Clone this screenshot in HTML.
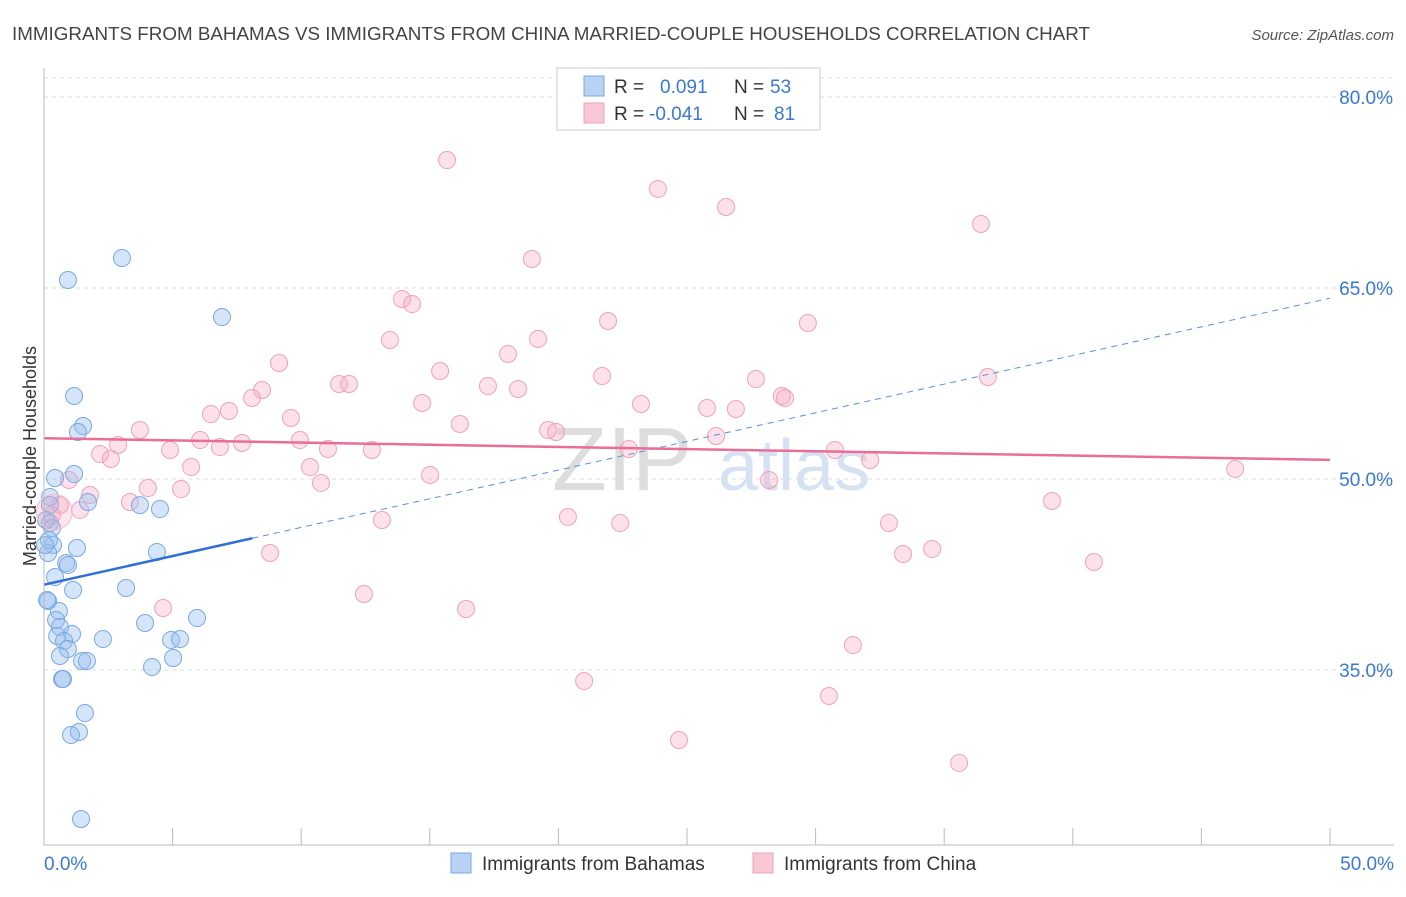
<!DOCTYPE html>
<html><head><meta charset="utf-8"><style>
body{margin:0;background:#fff;font-family:"Liberation Sans",sans-serif;}
svg text{font-family:"Liberation Sans",sans-serif;}
</style></head><body>
<svg id="chart" width="1406" height="892" xmlns="http://www.w3.org/2000/svg">
<text x="12" y="40" font-size="18.5" fill="#444" textLength="1078" lengthAdjust="spacingAndGlyphs">IMMIGRANTS FROM BAHAMAS VS IMMIGRANTS FROM CHINA MARRIED-COUPLE HOUSEHOLDS CORRELATION CHART</text>
<text x="1394" y="40" font-size="15" fill="#555" font-style="italic" text-anchor="end">Source: ZipAtlas.com</text>
<g><text x="552" y="490" font-size="90" fill="#ddd" font-family="Liberation Serif">ZIP</text><text x="718" y="490" font-size="72" fill="#d6e2f3">atlas</text></g>
<g id="grid"></g><g id="marks"></g><g id="axes"></g>
<text x="36" y="456" font-size="18" fill="#333" text-anchor="middle" transform="rotate(-90 36 456)">Married-couple Households</text>
<g>
<rect x="557" y="68" width="263" height="62" fill="#fff" stroke="#ccc"/>
<rect x="584" y="76" width="20" height="20" fill="#b8d2f4" stroke="#7aa8e0"/>
<rect x="584" y="103" width="20" height="20" fill="#f8c8d6" stroke="#eea2ba"/>
<text x="614" y="93" font-size="19" fill="#333">R = <tspan fill="#3a78d4" x="660">0.091</tspan><tspan x="734" fill="#333">N =</tspan><tspan x="770" fill="#3a78d4">53</tspan></text>
<text x="614" y="120" font-size="19" fill="#333">R = <tspan fill="#3a78d4" x="649">-0.041</tspan><tspan x="734" fill="#333">N =</tspan><tspan x="774" fill="#3a78d4">81</tspan></text>
</g>
<g>
<rect x="451" y="853" width="20" height="20" fill="#b8d2f4" stroke="#7aa8e0"/>
<text x="482" y="870" font-size="19" fill="#333">Immigrants from Bahamas</text>
<rect x="753" y="853" width="20" height="20" fill="#f8c8d6" stroke="#eea2ba"/>
<text x="784" y="870" font-size="19" fill="#333">Immigrants from China</text>
</g>
</svg>
<script>
const yTicks=[35,50,65,80];
const yTickLabels=["35.0%","50.0%","65.0%","80.0%"];
const xTickLabels=["0.0%","50.0%"];
const bahamasX=[3.03,0.93,6.92,1.17,1.52,1.32,1.17,0.43,1.71,3.73,4.51,0.23,0.23,0.31,0.35,1.28,0.16,4.39,0.86,0.93,0.43,3.19,1.13,0.16,0.58,0.47,0.62,5.95,3.93,1.09,0.51,2.29,0.78,4.94,5.29,0.93,0.62,1.48,1.67,5.02,4.20,0.70,0.74,1.59,1.36,1.05,1.44,0.23,0.08,0.19,0.04,0.12];
const bahamasY=[67.36,65.63,62.72,56.52,54.16,53.69,50.39,50.08,48.19,47.95,47.64,48.59,46.54,46.15,44.82,44.58,44.19,44.27,43.40,43.25,42.30,41.44,41.28,40.42,39.63,38.93,38.38,39.08,38.69,37.83,37.67,37.43,37.28,37.36,37.43,36.65,36.10,35.71,35.71,35.94,35.24,34.29,34.29,31.62,30.13,29.89,23.30,47.96,46.78,45.21,44.82,40.50];
const chinaX=[15.67,23.87,26.52,36.43,18.97,13.92,14.31,21.93,29.70,13.45,19.21,9.14,18.04,15.40,21.70,11.47,11.86,17.26,18.43,27.68,36.70,8.48,8.09,14.70,23.21,28.69,28.81,25.78,26.90,6.49,7.19,9.60,16.17,3.73,19.91,19.60,26.13,6.07,7.70,9.95,6.84,4.90,11.04,12.75,22.74,30.75,2.88,2.18,2.60,32.12,5.72,10.34,15.01,28.19,10.77,46.31,4.04,5.33,0.97,1.79,3.34,39.19,1.40,0.62,0.31,13.14,20.37,22.40,32.85,8.79,33.40,34.53,40.82,4.63,12.44,16.41,31.45,21.00,30.52,24.69,35.58];
const chinaY=[75.05,72.78,71.36,70.03,67.28,64.14,63.74,62.41,62.25,60.92,61.00,59.11,59.82,58.48,58.09,57.46,57.46,57.30,57.07,57.85,58.01,56.99,56.36,55.97,55.89,56.52,56.36,55.58,55.50,55.10,55.34,54.79,54.32,53.85,53.69,53.85,53.38,53.06,52.83,53.06,52.51,52.28,52.36,52.28,52.36,52.28,52.67,51.96,51.57,51.49,50.94,50.94,50.31,49.92,49.69,50.79,49.29,49.21,49.92,48.74,48.19,48.27,47.57,47.96,47.17,46.78,47.02,46.54,46.54,44.19,44.11,44.50,43.48,39.87,40.97,39.79,36.96,34.14,32.96,29.50,27.70];
const bahamasTrend=[41.7,64.2];
const chinaTrend=[53.2,51.5];
const NS="http://www.w3.org/2000/svg";
const xs=v=>44+v*25.72;
const ys=v=>479-(v-50)*12.733;
function mk(tag,attrs,parent){const e=document.createElementNS(NS,tag);for(const k in attrs)e.setAttribute(k,attrs[k]);document.getElementById(parent).appendChild(e);return e;}
let g=mk('line',{x1:44,x2:1394,y1:78,y2:78,stroke:'#ddd','stroke-dasharray':'4,4'},'grid');


yTicks.forEach((t,i)=>{
 const l=mk('line',{x1:44,x2:1394,y1:ys(t),y2:ys(t),stroke:'#ddd','stroke-dasharray':'4,4'},'grid');
 
 
 const tx=mk('text',{x:1393,y:ys(t)+7,'font-size':19,fill:'#3a78d4','text-anchor':'end'},'grid');
 tx.textContent=yTickLabels[i];
 
 
});
let a=mk('line',{x1:44,x2:44,y1:68,y2:845,stroke:'#bbb'},'axes');


a=mk('line',{x1:44,x2:1394,y1:845,y2:845,stroke:'#bbb'},'axes');


for(let i=0;i<=10;i++){
 const t=mk('line',{x1:xs(i*5),x2:xs(i*5),y1:828,y2:845,stroke:'#bbb'},'axes');
 
 
}
[[0,'start',44],[50,'end',1394]].forEach((d,i)=>{
 const t=mk('text',{x:d[2],y:870,'font-size':19,fill:'#3a78d4','text-anchor':d[1]},'axes');
 t.textContent=xTickLabels[i];
 
 
});
function pts(X,Y,fill,stroke,name){X.forEach((x,i)=>{
 const c=mk('circle',{cx:xs(x),cy:ys(Y[i]),r:8.5,fill:fill,stroke:stroke,'stroke-width':1},'marks');
 
 
});}
pts(chinaX,chinaY,'rgba(245,170,195,0.35)','#eea2ba','china-point');
pts(bahamasX,bahamasY,'rgba(150,190,240,0.4)','#7aa8e0','bahamas-point');
let big=mk('circle',{cx:xs(0.4),cy:ys(47.4),r:18,fill:'rgba(245,170,195,0.3)',stroke:'#f4c0d0'},'marks');


const bx=8.1,by=bahamasTrend[0]+(bahamasTrend[1]-bahamasTrend[0])*bx/50;
let t1=mk('line',{x1:xs(0),y1:ys(bahamasTrend[0]),x2:xs(bx),y2:ys(by),stroke:'#2f6fd6','stroke-width':2.5},'marks');


let t2=mk('line',{x1:xs(bx),y1:ys(by),x2:xs(50),y2:ys(bahamasTrend[1]),stroke:'#5a8fdc','stroke-width':1,'stroke-dasharray':'6,5'},'marks');


let t3=mk('line',{x1:xs(0),y1:ys(chinaTrend[0]),x2:xs(50),y2:ys(chinaTrend[1]),stroke:'#e86e98','stroke-width':2.5},'marks');


</script>
</body></html>
